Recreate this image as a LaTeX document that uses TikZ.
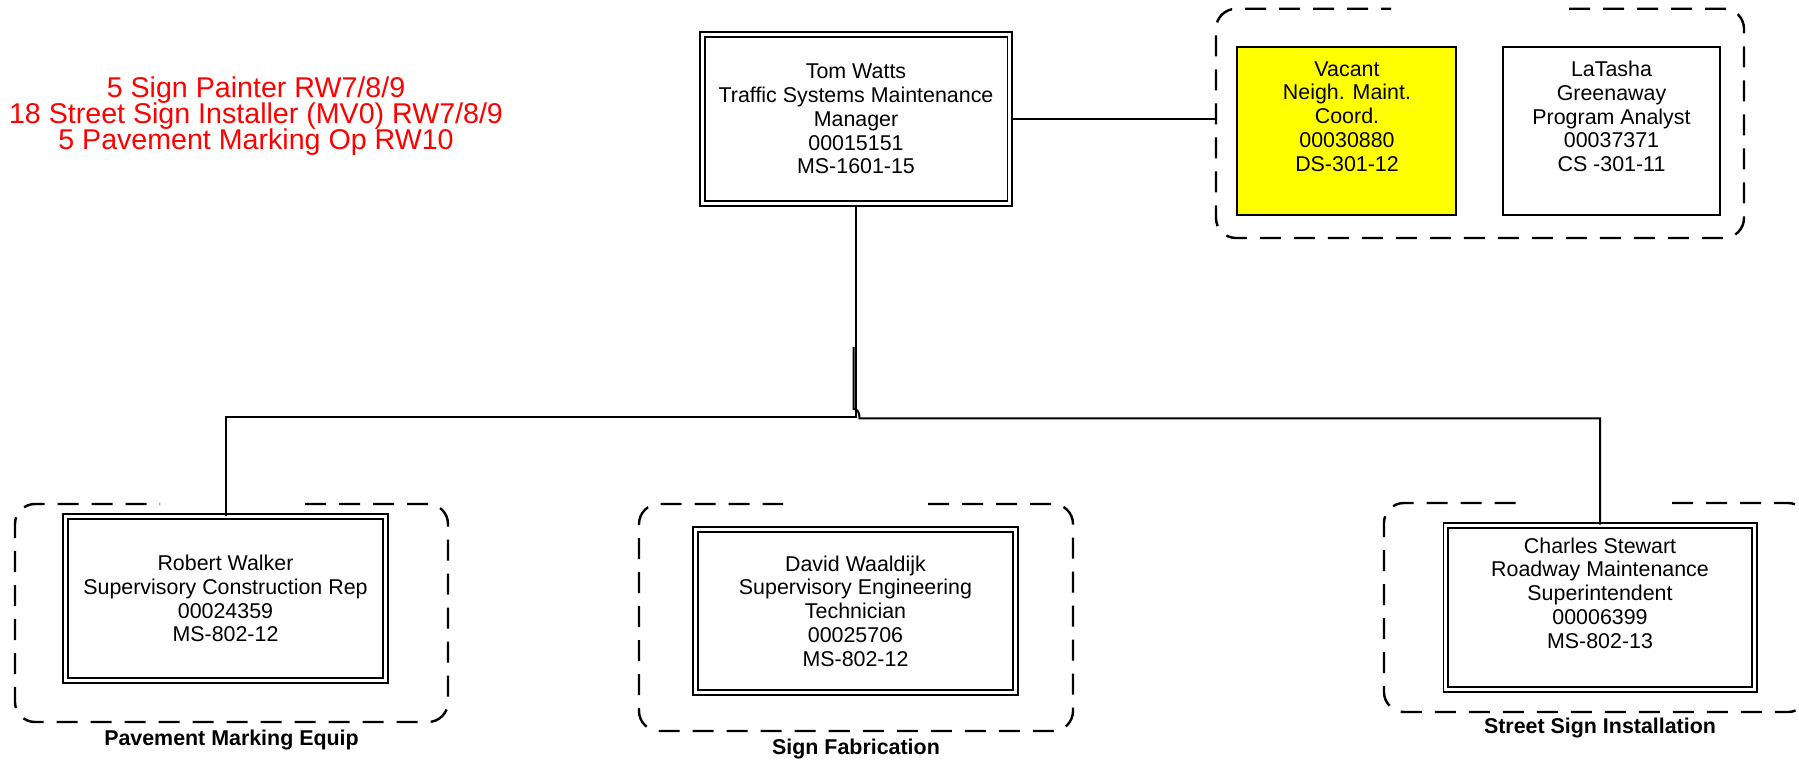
\documentclass[tikz,border=0pt]{standalone}
\usepackage{fontspec}
\setmainfont{Liberation Sans}
\newcommand\mytxt{\fontsize{21.4}{23.8}\selectfont}
\newcommand\mylbl{\fontsize{21.4}{23.8}\selectfont\bfseries}
\newcommand\myred{\fontsize{28.6}{26.4}\selectfont\lineskiplimit=-30pt}
\definecolor{vacyellow}{RGB}{255,255,0}
\definecolor{notered}{RGB}{255,0,0}
\tikzset{
  conn/.style={line width=2pt, draw=black},
  dbox/.style={draw=black, double=white, double distance=3pt, line width=1.8pt, inner sep=0pt, align=center, font=\mytxt},
  sbox/.style={draw=black, line width=2.4pt, inner sep=0pt},
  txt/.style={align=center, font=\mytxt, inner sep=0pt},
  grp/.style={draw=black, line width=2.4pt, dash pattern=on 21pt off 13pt, rounded corners=20pt},
  glabel/.style={font=\mylbl, anchor=base, inner sep=0pt},
}
\begin{document}
\begin{tikzpicture}[x=1pt, y=-1pt]
\useasboundingbox (0,0) rectangle (1799,762);
\fill[white] (0,0) rectangle (1799,762);

% note
\node[align=center, font=\myred, text=notered, inner sep=0pt] (note) at (256,116.2)
  {5 Sign Painter RW7/8/9\\18 Street Sign Installer (MV0) RW7/8/9\\5 Pavement Marking Op RW10};

% top manager
\node[dbox, minimum width=307.6pt, minimum height=169.2pt] (tom) at (856,119.1)
  {Tom Watts\\Traffic Systems Maintenance\\Manager\\00015151\\MS-1601-15};

% top group
\draw[grp] (1569,8.8) -- (1744,8.8) -- (1744,238) -- (1216,238) -- (1216,8.8) -- (1391,8.8);
\node[sbox, fill=vacyellow, minimum width=219pt, minimum height=168pt] (vac) at (1346.4,130.9) {};
\node[txt] (vactxt) at (1347,116.5) {Vacant\\Neigh. Maint.\\Coord.\\00030880\\DS-301-12};
\node[sbox, fill=white, minimum width=217pt, minimum height=168pt] (lat) at (1611.5,130.9) {};
\node[txt] (lattxt) at (1611.5,116.5) {LaTasha\\Greenaway\\Program Analyst\\00037371\\CS -301-11};
\coordinate (tgrp) at (1216,119.1);
\draw[conn] (tom.east) -- (tgrp);

% bottom groups
\draw[grp] (305,504) -- (448,504) -- (448,722) -- (15,722) -- (15,504) -- (160,504);
\draw[grp] (928,504) -- (1073,504) -- (1073,731) -- (639,731) -- (639,504) -- (783,504);
\draw[grp] (1672,503) -- (1808,503) -- (1808,712) -- (1384,712) -- (1384,503) -- (1528,503);

\node[dbox, minimum width=320pt, minimum height=164pt] (rob) at (225.5,598.5)
  {Robert Walker\\Supervisory Construction Rep\\00024359\\MS-802-12};
\node[dbox, minimum width=320pt, minimum height=163pt] (dav) at (855.5,611)
  {David Waaldijk\\Supervisory Engineering\\Technician\\00025706\\MS-802-12};
\node[dbox, minimum width=308.4pt, minimum height=164pt] (cha) at (1600,607.5) {};
\node[txt] (chatxt) at (1600,593) {Charles Stewart\\Roadway Maintenance\\Superintendent\\00006399\\MS-802-13};

\node[glabel] (l1) at (231.5,745) {Pavement Marking Equip};
\node[glabel] (l2) at (856,754) {Sign Fabrication};
\node[glabel] (l3) at (1600,733) {Street Sign Installation};

% connectors
\coordinate (j1) at (856,416.7);
\draw[conn] (tom.south) -- (j1) -| (rob.north);
\coordinate (j2) at (853.6,347);
\draw[conn] (j2) -- (853.6,409) .. controls (857.5,409) and (859.5,412) .. (859.5,418.3) -| (cha.north);
\end{tikzpicture}
\end{document}
